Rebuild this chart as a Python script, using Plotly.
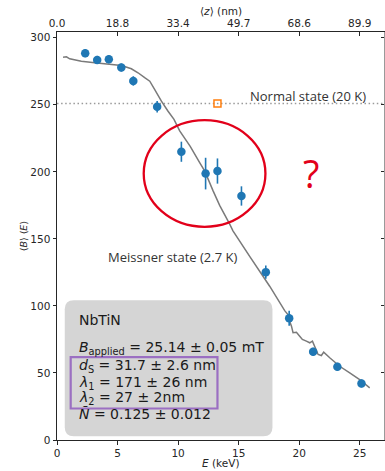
import plotly.graph_objects as go

# Implantation energy (keV) and mean field <B> measured in the Meissner state (2.7 K)
energy_kev = [2.33, 3.32, 4.28, 5.31, 6.30, 8.27, 10.27, 12.27, 13.25, 15.23, 17.24, 19.17, 21.15, 23.15, 25.14]
field_meissner = [288.5, 283.5, 284.0, 277.8, 267.8, 248.5, 215.0, 198.7, 200.6, 182.0, 125.2, 90.8, 65.8, 54.6, 42.2]
field_err = [3.0, 3.0, 3.0, 3.0, 3.5, 4.3, 7.5, 11.8, 9.4, 7.2, 5.0, 5.6, 3.0, 3.0, 3.0]

# Normal state reference (20 K)
energy_normal = [13.25]
field_normal = [251.0]
normal_level = 251.0

# Model curve
fit_energy = [0.50, 0.78, 1.05, 2.01, 3.11, 4.21, 5.32, 6.14, 6.69, 7.24, 7.66, 8.07, 8.62,
              9.17, 9.66, 10.13, 11.00, 11.78, 12.20, 12.88, 13.43, 14.26, 14.53, 15.91,
              17.56, 18.80, 19.07, 19.21, 19.36, 19.49, 19.77, 20.04, 20.26, 20.59, 20.87,
              21.09, 21.28, 21.56, 21.83, 22.02, 22.52, 23.34, 24.17, 24.99, 25.82]
fit_field = [285.5, 285.8, 284.3, 282.5, 281.3, 280.3, 279.3, 276.9, 273.9, 270.2, 267.6, 261.4, 252.7,
             245.2, 239.1, 230.5, 219.0, 206.8, 200.5, 186.0, 175.0, 161.0, 156.0, 137.0,
             114.7, 96.5, 93.6, 88.6, 84.9, 80.0, 80.4, 77.4, 75.0, 73.7, 72.5,
             73.7, 70.0, 63.8, 63.0, 65.5, 61.3, 55.0, 50.1, 45.1, 38.9]

# Axis ticks
x_ticks = [0, 5, 10, 15, 20, 25]
y_ticks = [0, 50, 100, 150, 200, 250, 300]
depth_labels = ["0.0", "18.8", "33.4", "49.7", "68.6", "89.9"]

X_RANGE = [0, 27.0]
Y_RANGE = [0, 304.3]

BLUE = "#1f77b4"
ORANGE = "#ff7f0e"
AXIS = "#262626"
MPL_FONT = "DejaVu Sans"
NOTE_FONT = "Open Sans"

fig = go.Figure()

# normal-state level
fig.add_trace(go.Scatter(
    x=X_RANGE, y=[normal_level, normal_level], mode="lines",
    line=dict(color="#9a9a9a", width=1.4, dash="1.5px,2.6px"),
    hoverinfo="skip", showlegend=False))

# model curve
fig.add_trace(go.Scatter(
    x=fit_energy, y=fit_field, mode="lines",
    line=dict(color="#7a7a7a", width=1.5),
    hoverinfo="skip", showlegend=False))

# Meissner-state data
fig.add_trace(go.Scatter(
    x=energy_kev, y=field_meissner, mode="markers",
    marker=dict(color=BLUE, size=8.5, line=dict(width=0)),
    error_y=dict(type="data", array=field_err, color=BLUE, thickness=1.6, width=0),
    showlegend=False))

# normal-state point
fig.add_trace(go.Scatter(
    x=energy_normal, y=field_normal, mode="markers",
    marker=dict(symbol="square-open", color=ORANGE, size=7, line=dict(width=1.5, color=ORANGE)),
    showlegend=False))

# secondary axes (depth on top, mirrored ticks on right)
fig.add_trace(go.Scatter(x=[None], y=[None], xaxis="x2", yaxis="y2",
                         hoverinfo="skip", showlegend=False))

# rounded parameter box
bx0, bx1, by0, by1 = 0.64, 17.79, 2.8, 104.3
rx, ry = 0.75, 6.7
box_path = (f"M {bx0+rx},{by0} L {bx1-rx},{by0} Q {bx1},{by0} {bx1},{by0+ry} "
            f"L {bx1},{by1-ry} Q {bx1},{by1} {bx1-rx},{by1} L {bx0+rx},{by1} "
            f"Q {bx0},{by1} {bx0},{by1-ry} L {bx0},{by0+ry} Q {bx0},{by0} {bx0+rx},{by0} Z")

shapes = [
    dict(type="path", path=box_path, xref="x", yref="y", fillcolor="#d5d5d5",
         line=dict(width=0), layer="below"),
    dict(type="rect", xref="x", yref="y", x0=1.13, x1=13.25, y0=23.5, y1=61.8,
         line=dict(color="#9b6fc2", width=2.2), fillcolor="rgba(0,0,0,0)", layer="above"),
    dict(type="circle", xref="x", yref="y", x0=7.16, x1=17.21, y0=159.0, y1=238.5,
         line=dict(color="#e2001a", width=2.3), layer="above"),
]

annotations = []
box_lines = [
    ("NbTiN", 89.6),
    ("<i>B</i><sub>applied</sub> = 25.14 ± 0.05 mT", 68.8),
    ("<i>d</i><sub>S</sub> = 31.7 ± 2.6 nm", 55.0),
    ("<i>λ</i><sub>1</sub> = 171 ± 26 nm", 42.7),
    ("<i>λ</i><sub>2</sub> = 27 ± 2nm", 31.5),
    ("<i>Ñ</i> = 0.125 ± 0.012", 19.5),
]
for txt, yy in box_lines:
    annotations.append(dict(x=1.65, y=yy, xref="x", yref="y", text=txt, showarrow=False,
                            xanchor="left", yanchor="middle",
                            font=dict(family=MPL_FONT, size=14, color="#1a1a1a")))

annotations += [
    dict(x=25.66, y=256.2, xref="x", yref="y", text="Normal state (20 K)", showarrow=False,
         xanchor="right", yanchor="middle", font=dict(family=NOTE_FONT, size=13, color="#333333")),
    dict(x=4.02, y=136.6, xref="x", yref="y", text="Meissner state (2.7 K)", showarrow=False,
         xanchor="left", yanchor="middle", font=dict(family=NOTE_FONT, size=13, color="#333333")),
    dict(x=21.0, y=199.3, xref="x", yref="y", text="?", showarrow=False,
         xanchor="center", yanchor="middle", font=dict(family=NOTE_FONT, size=38, color="#e2001a")),
    # axis titles
    dict(x=0.5, y=-0.0564, xref="paper", yref="paper", text="<i>E</i> (keV)", showarrow=False,
         xanchor="center", yanchor="middle", font=dict(family=MPL_FONT, size=10.5, color=AXIS)),
    dict(x=0.5, y=1.0515, xref="paper", yref="paper", text="⟨<i>z</i>⟩ (nm)", showarrow=False,
         xanchor="center", yanchor="middle", font=dict(family=MPL_FONT, size=10.5, color=AXIS)),
    dict(x=-0.103, y=0.5, xref="paper", yref="paper", text="⟨<i>B</i>⟩ ⟨<i>E</i>⟩", showarrow=False,
         textangle=-90, xanchor="center", yanchor="middle",
         font=dict(family=MPL_FONT, size=9.5, color=AXIS)),
]

axis_common = dict(showgrid=False, zeroline=False, showline=True, linecolor=AXIS, linewidth=1,
                   tickcolor=AXIS, tickwidth=0.9, ticklen=3.5,
                   tickfont=dict(family=MPL_FONT, size=10.5, color=AXIS))

fig.update_layout(
    width=385, height=471,
    margin=dict(l=57, r=1, t=32, b=31),
    paper_bgcolor="white", plot_bgcolor="white",
    xaxis=dict(range=X_RANGE, tickvals=x_ticks, ticks="outside", **axis_common),
    yaxis=dict(range=Y_RANGE, tickvals=y_ticks, ticks="outside", **axis_common),
    xaxis2=dict(range=X_RANGE, overlaying="x", side="top", tickvals=x_ticks, ticktext=depth_labels,
                ticks="inside", **axis_common),
    yaxis2=dict(range=Y_RANGE, overlaying="y", side="right", tickvals=y_ticks, ticks="inside",
                showticklabels=False, **dict(axis_common, linecolor="#9a9a9a")),
    shapes=shapes,
    annotations=annotations,
    showlegend=False,
)

fig.write_html("out.html")
